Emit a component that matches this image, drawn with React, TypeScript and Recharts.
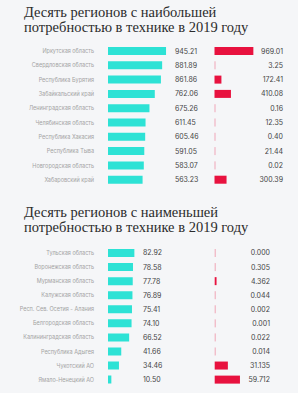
import { BarChart, Bar, XAxis, YAxis, LabelList } from 'recharts';

document.body.style.margin = '0';

const topRegions = [
  'Иркутская область',
  'Свердловская область',
  'Республика Бурятия',
  'Забайкальский край',
  'Ленинградская область',
  'Челябинская область',
  'Республика Хакасия',
  'Республика Тыва',
  'Новгородская область',
  'Хабаровский край',
];
const topNeed = [945.21, 881.89, 861.86, 762.06, 675.26, 611.45, 605.46, 591.05, 583.07, 563.23];
const topRed = [969.01, 3.25, 172.41, 410.08, 0.16, 12.35, 0.4, 21.44, 0.02, 300.39];

const bottomRegions = [
  'Тульская область',
  'Воронежская область',
  'Мурманская область',
  'Калужская область',
  'Респ. Сев. Осетия - Алания',
  'Белгородская область',
  'Калининградская область',
  'Республика Адыгея',
  'Чукотский АО',
  'Ямало-Ненецкий АО',
];
const bottomNeed = [82.92, 78.58, 77.78, 76.89, 75.41, 74.1, 66.52, 41.66, 34.46, 10.5];
const bottomRed = [0.0, 0.305, 4.362, 0.044, 0.002, 0.001, 0.022, 0.014, 31.135, 59.712];

const CYAN = '#2de2d5';
const RED = '#e8123f';
const PLOT_LEFT = 108;
const PLOT_RIGHT = 298;

const ThinBar = (p: any) => {
  const w = Math.max(p.width || 0, 1);
  const faint = (p.width || 0) < 1;
  return <rect x={p.x} y={p.y} width={w} height={p.height} fill={p.fill} fillOpacity={faint ? 0.35 : 1} />;
};

const RegionTick = (p: any) => (
  <text
    x={p.x}
    y={p.y}
    textAnchor="end"
    dominantBaseline="central"
    fontSize={5.5}
    fontFamily="Inter"
    fill="#a3a3a3"
  >
    {p.payload.value}
  </text>
);

interface SectionProps {
  regions: string[];
  need: number[];
  red: number[];
  redDigits: number;
  cyanScale: number; // px per unit
  redZero: number;
  redScale: number;
  cyanValueX: number;
  redValueX: number;
  top: number;
  height: number;
}

function Section(props: SectionProps) {
  const data = props.regions.map((name, i) => ({ name, need: props.need[i], red: props.red[i] }));
  const plotW = PLOT_RIGHT - PLOT_LEFT;
  const cyanDomain = [0, plotW / props.cyanScale];
  const redDomain = [
    -(props.redZero - PLOT_LEFT) / props.redScale,
    (PLOT_RIGHT - props.redZero) / props.redScale,
  ];
  return (
    <div style={{ position: 'absolute', left: 0, top: props.top }}>
      <BarChart
        width={298}
        height={props.height}
        data={data}
        layout="vertical"
        margin={{ top: 0, right: 0, bottom: 0, left: 0 }}
        barCategoryGap={0}
        barGap={-8}
      >
        <XAxis xAxisId="a" type="number" hide domain={cyanDomain} allowDataOverflow />
        <XAxis xAxisId="b" type="number" hide domain={redDomain} allowDataOverflow />
        <YAxis
          type="category"
          dataKey="name"
          width={PLOT_LEFT}
          interval={0}
          axisLine={false}
          tickLine={false}
          tickSize={0}
          tickMargin={14}
          tick={<RegionTick />}
        />
        <Bar xAxisId="a" dataKey="need" fill={CYAN} barSize={8} isAnimationActive={false}>
          <LabelList
            dataKey="need"
            content={(l: any) => (
              <text
                x={props.cyanValueX}
                y={l.y + l.height / 2}
                dominantBaseline="central"
                fontSize={7}
                fontFamily="Inter"
                fill="#444"
              >
                {Number(l.value).toFixed(2)}
              </text>
            )}
          />
        </Bar>
        <Bar xAxisId="b" dataKey="red" fill={RED} barSize={8} shape={ThinBar} isAnimationActive={false}>
          <LabelList
            dataKey="red"
            content={(l: any) => (
              <text
                x={props.redValueX}
                y={l.y + l.height / 2}
                dominantBaseline="central"
                textAnchor="end"
                fontSize={7}
                fontFamily="Inter"
                fill="#444"
              >
                {Number(l.value).toFixed(props.redDigits)}
              </text>
            )}
          />
        </Bar>
      </BarChart>
    </div>
  );
}

const titleLine: React.CSSProperties = {
  position: 'absolute',
  left: 24,
  fontFamily: '"Liberation Serif", serif',
  fontSize: 14.5,
  lineHeight: '15px',
  height: 15,
  color: '#2b2b2b',
  whiteSpace: 'nowrap',
};

export default function App() {
  return (
    <div style={{ position: 'relative', width: 298, height: 393, background: '#f5f6f8', overflow: 'hidden' }}>
      <div style={{ ...titleLine, top: 5 }}>Десять регионов с наибольшей</div>
      <div style={{ ...titleLine, top: 20 }}>потребностью в технике в 2019 году</div>
      <Section
        regions={topRegions}
        need={topNeed}
        red={topRed}
        redDigits={2}
        cyanScale={0.0614}
        redZero={214.5}
        redScale={0.0401}
        cyanValueX={175}
        redValueX={283}
        top={44}
        height={143}
      />
      <div style={{ ...titleLine, top: 205 }}>Десять регионов с наименьшей</div>
      <div style={{ ...titleLine, top: 220 }}>потребностью в технике в 2019 году</div>
      <Section
        regions={bottomRegions}
        need={bottomNeed}
        red={bottomRed}
        redDigits={3}
        cyanScale={0.318}
        redZero={214.7}
        redScale={0.423}
        cyanValueX={143}
        redValueX={270}
        top={246.3}
        height={140.7}
      />
    </div>
  );
}
